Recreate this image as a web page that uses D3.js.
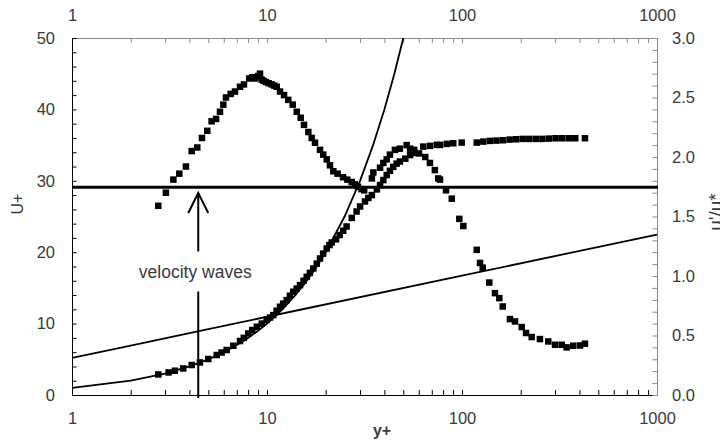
<!DOCTYPE html>
<html>
<head>
<meta charset="utf-8">
<script src="https://cdn.jsdelivr.net/npm/d3@7"></script>
<style>
  html, body { margin: 0; padding: 0; background: #fff; }
  svg { display: block; }
  text { font-family: "Liberation Sans", Arial, sans-serif; }
</style>
</head>
<body>
<svg id="chart" width="720" height="444"></svg>
<script>
// ---------------- data ----------------
const xTickLabels = [1, 10, 100, 1000];
const leftTickLabels = [0, 10, 20, 30, 40, 50];
const rightTickLabels = [0.0, 0.5, 1.0, 1.5, 2.0, 2.5, 3.0];

// near-wall mean velocity U+ (left axis)
const uPlusNearY = [2.77,3.13,3.37,3.72,4.11,4.53,5.00,5.52,5.85,6.21,6.72,7.27,7.6,8.02,8.4,8.86,9.4,9.96,10.37,10.77,11.2,11.66,12.1,12.62,13.1,13.64,14.2,14.77,15.4,15.98,16.6,17.28,18.0,18.7,19.4,20.24,20.9,21.47,22.6,23.6,24.6,25.6,27.2,28.8,30.0,31.8,33.1,34.5,36.6,38.0,39.5,41.1,42.7,44.4,46.2,48.0,51.2,54.2,56.9];
const uPlusNearV = [2.88,3.16,3.40,3.72,4.20,4.56,5.04,5.60,5.95,6.30,6.90,7.56,8.0,8.62,9.1,9.56,10.0,10.5,10.85,11.19,11.8,12.36,12.8,13.29,13.9,14.46,14.9,15.39,16.0,16.55,17.1,17.72,18.4,19.12,19.8,20.51,21.0,21.36,21.8,22.4,23.0,23.6,24.8,25.7,26.4,27.1,27.6,28.0,28.8,29.4,30.1,30.8,31.4,31.95,32.4,32.7,33.1,33.6,33.9];

// outer mean velocity U+ (left axis)
const uPlusOuterY = [63.3,68.5,74.2,77.1,83.5,90.2,99.6,119,128.6,139,150.2,162.3,175.5,189.6,204.8,221.4,239.3,258.5,279.4,301.9,326.2,352.6,381,427];
const uPlusOuterV = [34.79,34.89,35.03,35.03,35.17,35.26,35.35,35.35,35.49,35.59,35.63,35.68,35.77,35.82,35.87,35.87,35.87,35.87,35.91,35.96,35.96,35.96,35.96,35.96];

// near-wall turbulence intensity u'/u* (right axis)
const uRmsNearY = [2.77,3.03,3.31,3.55,3.84,4.11,4.39,4.64,4.94,5.20,5.48,5.74,5.97,6.16,6.51,6.85,7.27,7.62,8.11,8.40,8.68,9.0,9.21,9.39,9.6,9.88,10.2,10.57,10.9,11.21,11.66,12.23,12.86,13.55,14.21,14.89,15.48,16.29,16.95,17.63,18.7,19.44,20.24,21.04,21.88,23.0,24.53,25.8,27.2,28.2,29.28,30.5,31.5];
const uRmsNearV = [1.59,1.70,1.81,1.86,1.92,2.05,2.08,2.16,2.22,2.30,2.32,2.38,2.44,2.50,2.53,2.55,2.59,2.61,2.66,2.67,2.66,2.68,2.70,2.65,2.64,2.63,2.62,2.61,2.60,2.59,2.55,2.52,2.48,2.44,2.38,2.33,2.27,2.21,2.16,2.12,2.06,2.02,1.98,1.93,1.88,1.86,1.83,1.81,1.79,1.77,1.75,1.73,1.72];

// outer turbulence intensity u'/u* (right axis)
const uRmsOuterY = [34.5,35.1,38.0,39.5,41.1,42.7,45.3,48.0,52.0,54.2,56.9,60.2,64.8,68.5,72.6,75.5,77.1,82.8,88.6,96.9,101.6,119,123.7,127.7,138,147.6,155.4,161.8,176.2,187,202.4,213,227.7,251,277,300,324.5,344,372,403,427];
const uRmsOuterV = [1.82,1.87,1.91,1.95,1.98,2.02,2.06,2.07,2.10,2.07,2.06,2.03,2.00,1.95,1.89,1.82,1.81,1.72,1.65,1.48,1.42,1.22,1.11,1.07,0.945,0.856,0.814,0.744,0.638,0.618,0.571,0.521,0.487,0.470,0.450,0.422,0.422,0.400,0.414,0.416,0.431];

// viscous sublayer line U+ = y+ (left axis)
const viscY = [1,2,3,4,5,6,7,8,9,10,12,14,16,18,20,25,30,35,40,45,50];
const viscV = [1,2,3,4,5,6,7,8,9,10,12,14,16,18,20,25,30,35,40,45,50];

// log-law line (left axis)
const logLawY = [1, 2, 5, 10, 100, 1000];
const logLawV = [5.2, 6.93, 9.22, 10.96, 16.71, 22.47];

// horizontal reference level (right axis)
const refLevel = 1.745;

// annotation (data units)
const arrowYPlus = 4.44;
const arrowTipU = 28.3;
const arrowGapLow = 14.5;
const arrowGapHigh = 20.1;
const annotationText = "velocity waves";
const annotationU = 16.4;

// ---------------- layout ----------------
const L = 72, R = 657, T = 38, B = 395;
const svg = d3.select("#chart");
const x = d3.scaleLog().domain([1, 1000]).range([L, R]);
const yL = d3.scaleLinear().domain([0, 50]).range([B, T]);
const yR = d3.scaleLinear().domain([0, 3]).range([B, T]);

const textColor = "#3a3a3a";
const fontSize = "16.5px";

function styleAxis(g, color) {
  g.select(".domain").attr("stroke", color).attr("stroke-width", 1);
  g.selectAll(".tick line").attr("stroke", color);
  g.selectAll(".tick text").attr("fill", textColor).style("font-size", fontSize)
    .style("font-family", '"Liberation Sans", Arial, sans-serif');
}

const logTicks = x.ticks();
const logFmt = d => xTickLabels.includes(d) ? String(d) : "";

// bottom
const gB = svg.append("g").attr("transform", `translate(0,${B})`)
  .call(d3.axisBottom(x).tickValues(logTicks).tickFormat(logFmt).tickSizeInner(-5).tickSizeOuter(0).tickPadding(17));
styleAxis(gB, "#000");
// top
const gT = svg.append("g").attr("transform", `translate(0,${T})`)
  .call(d3.axisTop(x).tickValues(logTicks).tickFormat(logFmt).tickSizeInner(-5).tickSizeOuter(0).tickPadding(17));
styleAxis(gT, "#8a8a8a");
// left
const leftTicks = d3.range(0, 51, 2);
const gL = svg.append("g").attr("transform", `translate(${L},0)`)
  .call(d3.axisLeft(yL).tickValues(leftTicks).tickFormat(d => leftTickLabels.includes(d) ? String(d) : "").tickSizeInner(-4.5).tickSizeOuter(0).tickPadding(17));
styleAxis(gL, "#000");
// right
const rightTicks = d3.range(0, 31, 1).map(v => v / 10);
const gR = svg.append("g").attr("transform", `translate(${R},0)`)
  .call(d3.axisRight(yR).tickValues(rightTicks).tickFormat(d => rightTickLabels.some(v => Math.abs(v - d) < 1e-9) ? d.toFixed(1) : "").tickSizeInner(-4.5).tickSizeOuter(0).tickPadding(15));
styleAxis(gR, "#8a8a8a");

// clip for lines
svg.append("clipPath").attr("id", "plotclip").append("rect")
  .attr("x", L).attr("y", T).attr("width", R - L + 1).attr("height", B - T);

const lineL = d3.line().x(d => x(d[0])).y(d => yL(d[1]));
const zipped = (a, b) => a.map((v, i) => [v, b[i]]);

const plot = svg.append("g");

// horizontal reference line
plot.append("line")
  .attr("x1", x(1)).attr("x2", x(1000) + 1)
  .attr("y1", yR(refLevel)).attr("y2", yR(refLevel))
  .attr("stroke", "#000").attr("stroke-width", 3);

// theory lines
plot.append("path").attr("d", lineL(zipped(viscY, viscV)))
  .attr("fill", "none").attr("stroke", "#000").attr("stroke-width", 1.8)
  .attr("clip-path", "url(#plotclip)");
plot.append("path").attr("d", lineL(zipped(logLawY, logLawV)))
  .attr("fill", "none").attr("stroke", "#000").attr("stroke-width", 1.8)
  .attr("clip-path", "url(#plotclip)");

// markers
const ms = 6.5;
function squares(xs, vs, yScale) {
  plot.append("g").selectAll("rect").data(zipped(xs, vs)).join("rect")
    .attr("x", d => x(d[0]) - ms / 2).attr("y", d => yScale(d[1]) - ms / 2)
    .attr("width", ms).attr("height", ms).attr("fill", "#000");
}
squares(uPlusNearY, uPlusNearV, yL);
squares(uPlusOuterY, uPlusOuterV, yL);
squares(uRmsNearY, uRmsNearV, yR);
squares(uRmsOuterY, uRmsOuterV, yR);

// annotation arrow
const ax = x(arrowYPlus);
const ann = svg.append("g").attr("stroke", "#000").attr("stroke-width", 2).attr("fill", "none");
ann.append("line").attr("x1", ax).attr("x2", ax).attr("y1", B + 3).attr("y2", yL(arrowGapLow));
ann.append("line").attr("x1", ax).attr("x2", ax).attr("y1", yL(arrowGapHigh)).attr("y2", yL(arrowTipU));
ann.append("path").attr("d", `M${ax - 10},${yL(arrowTipU) + 20} L${ax},${yL(arrowTipU)} L${ax + 10},${yL(arrowTipU) + 20}`);

svg.append("text").attr("x", ax - 3).attr("y", yL(annotationU))
  .attr("text-anchor", "middle").attr("fill", textColor)
  .style("font-size", "17.5px").text(annotationText);

// axis titles
svg.append("text").attr("transform", `translate(23,204) rotate(-90)`)
  .attr("text-anchor", "middle").attr("fill", textColor).style("font-size", "16px").text("U+");
svg.append("text").attr("transform", `translate(722,212) rotate(-90)`)
  .attr("text-anchor", "middle").attr("fill", textColor).style("font-size", "19px").text("u'/u*");
svg.append("text").attr("x", 382).attr("y", 436)
  .attr("text-anchor", "middle").attr("fill", textColor).style("font-size", "16px")
  .style("font-weight", "bold").text("y+");
</script>
</body>
</html>
